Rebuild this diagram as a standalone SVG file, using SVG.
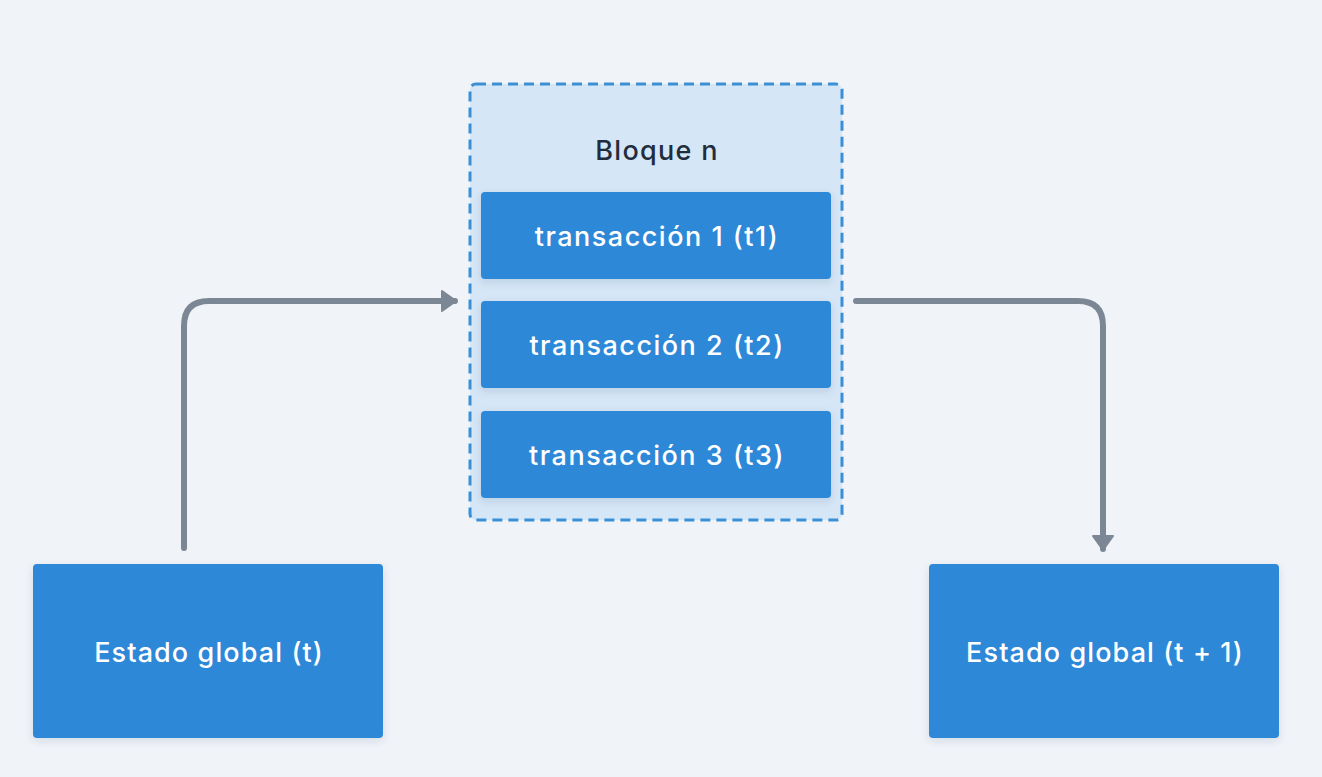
<svg xmlns="http://www.w3.org/2000/svg" width="1322" height="777" viewBox="0 0 1322 777">
  <defs>
    <filter id="sh" x="-10%" y="-10%" width="120%" height="130%">
      <feDropShadow dx="0" dy="3" stdDeviation="4" flood-color="#1c3a5a" flood-opacity="0.12"/>
    </filter>
    <marker id="arr" viewBox="0 0 16 22" refX="14" refY="11" markerWidth="16" markerHeight="22" markerUnits="userSpaceOnUse" orient="auto">
      <path d="M1,1 L15,11 L1,21 Z" fill="#7b8794" stroke="#7b8794" stroke-width="2" stroke-linejoin="round"/>
    </marker>
    <style>
      .box { fill: #2e88d8; filter: url(#sh); }
      .lbl { font-family: "Inter", "Liberation Sans", sans-serif; font-weight: 500; fill: #ffffff; text-anchor: middle; dominant-baseline: central; }
      .big { font-size: 27px; letter-spacing: 1.1px; }
      .tx { font-size: 27px; letter-spacing: 1.5px; }
      .conn { fill: none; stroke: #7b8794; stroke-width: 6; stroke-linecap: round; stroke-linejoin: round; }
    </style>
  </defs>
  <rect width="1322" height="777" fill="#f0f4f8"/>

  <g id="bloque">
    <rect x="470" y="84" width="372" height="436" rx="6" fill="#d5e6f6" stroke="#3b8fd6" stroke-width="3" stroke-dasharray="10 6"/>
    <text x="657" y="150" font-family="Inter, 'Liberation Sans', sans-serif" font-weight="500" font-size="27" letter-spacing="1.3" fill="#1f2d3d" text-anchor="middle" dominant-baseline="central">Bloque n</text>
  </g>

  <g id="t1">
    <rect class="box" x="481" y="192" width="350" height="87" rx="4"/>
    <text class="lbl tx" x="657" y="236">transacción 1 (t1)</text>
  </g>
  <g id="t2">
    <rect class="box" x="481" y="301" width="350" height="87" rx="4"/>
    <text class="lbl tx" x="657" y="345">transacción 2 (t2)</text>
  </g>
  <g id="t3">
    <rect class="box" x="481" y="411" width="350" height="87" rx="4"/>
    <text class="lbl tx" x="657" y="455">transacción 3 (t3)</text>
  </g>

  <g id="estado-t">
    <rect class="box" x="33" y="564" width="350" height="174" rx="4"/>
    <text class="lbl big" x="209" y="652">Estado global (t)</text>
  </g>
  <g id="estado-t1">
    <rect class="box" x="929" y="564" width="350" height="174" rx="4"/>
    <text class="lbl big" x="1105" y="652">Estado global (t + 1)</text>
  </g>

  <g id="connectors">
    <path class="conn" d="M184,548 L184,326 Q184,301 209,301 L455,301" marker-end="url(#arr)"/>
    <path class="conn" d="M856,301 L1078,301 Q1103,301 1103,326 L1103,549" marker-end="url(#arr)"/>
  </g>
</svg>
